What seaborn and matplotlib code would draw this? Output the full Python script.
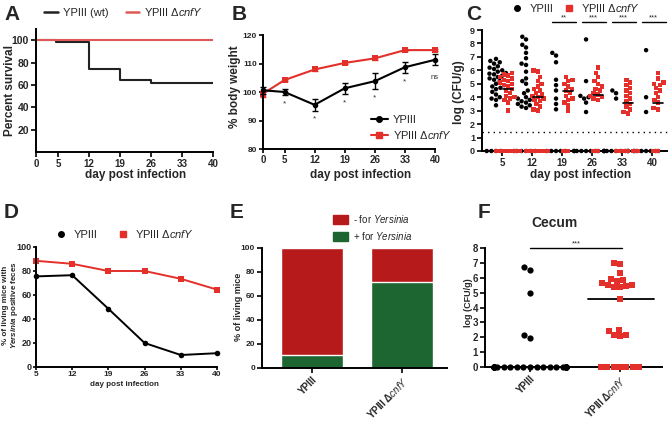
import warnings
warnings.filterwarnings("ignore")
import numpy as np
import pandas as pd
import matplotlib
matplotlib.use("Agg")
import matplotlib.pyplot as plt
import seaborn as sns
from matplotlib.lines import Line2D
from matplotlib.patches import Patch

sns.set_theme(style="ticks")
plt.rcParams['font.family'] = ['Liberation Sans', 'DejaVu Sans']
plt.rcParams['mathtext.fontset'] = 'custom'
plt.rcParams['mathtext.it'] = 'Liberation Sans:italic'
plt.rcParams['mathtext.rm'] = 'Liberation Sans'
plt.rcParams['mathtext.bf'] = 'Liberation Sans:bold:italic'

RED = '#E3302A'
DARKRED = '#B71A1B'
GREEN = '#1E6631'
MUT = 'YPIII Δ$\\mathit{cnfY}$'

# ---------------- data ----------------
# A survival
surv_days = [0, 4.5, 12, 19, 26, 40]
surv_wt = [100, 98, 74, 64, 62, 62]
surv_mut = [100, 100, 100, 100, 100, 100]

# B body weight
bw_days = [0, 5, 12, 19, 26, 33, 40]
bw_wt = [100.6, 100.0, 95.5, 101.3, 103.8, 108.7, 111.3]
bw_wt_err = [1.3, 1.0, 2.0, 2.0, 2.8, 2.0, 2.0]
bw_mut = [99.4, 104.2, 107.9, 110.2, 111.8, 114.7, 114.7]
bw_mut_err = [1.0, 0.4, 0.4, 0.4, 0.6, 0.4, 0.4]
bw_sig = ['*', '*', '*', '*', '*', 'ns']
bw_sig_days = [5, 12, 19, 26, 33, 40]

# C feces CFU
c_days = ['5', '12', '19', '26', '33', '40']
c_wt = {
    '5': [6.85, 6.7, 6.6, 6.5, 6.3, 6.2, 6.1, 6.0, 5.9, 5.8, 5.75, 5.7, 5.6, 5.5, 5.4, 5.3, 5.2,
          5.0, 4.9, 4.8, 4.7, 4.6, 4.4, 4.2, 4.0, 3.9, 3.8, 3.4, 0, 0, 0, 0],
    '12': [8.5, 8.3, 7.9, 7.7, 7.3, 6.9, 6.5, 6.4, 5.9, 5.4, 5.2, 5.0, 4.5, 4.3, 4.0, 3.9, 3.8,
           3.7, 3.6, 3.5, 3.4, 3.3, 3.2, 0, 0, 0, 0, 0, 0],
    '19': [7.3, 7.1, 6.6, 5.3, 4.9, 4.5, 3.9, 3.5, 3.1, 0, 0, 0, 0, 0],
    '26': [8.3, 5.2, 4.1, 4.0, 3.9, 3.6, 2.9, 0, 0, 0, 0, 0, 0, 0, 0],
    '33': [4.5, 4.3, 3.9, 0, 0, 0, 0, 0, 0, 0, 0, 0, 0],
    '40': [7.5, 4.0, 2.9, 0, 0, 0, 0, 0, 0, 0, 0],
}
c_mut = {
    '5': [5.8, 5.7, 5.6, 5.5, 5.4, 5.3, 5.2, 5.1, 5.0, 4.9, 4.8, 4.6, 4.5, 4.3, 4.1, 4.0, 3.9,
          3.8, 3.6, 3.0, 0, 0, 0, 0, 0, 0, 0, 0],
    '12': [6.0, 5.9, 5.5, 5.2, 5.0, 4.8, 4.6, 4.5, 4.3, 4.2, 4.1, 4.0, 3.9, 3.8, 3.7, 3.5, 3.3,
           3.1, 3.0, 0, 0, 0, 0, 0, 0],
    '19': [5.5, 5.3, 5.2, 5.0, 4.8, 4.6, 4.5, 4.3, 4.1, 3.9, 3.8, 3.6, 3.4, 3.0, 0, 0],
    '26': [6.2, 5.8, 5.5, 5.2, 5.0, 4.8, 4.6, 4.5, 4.3, 4.2, 4.1, 4.0, 3.9, 3.8, 0, 0],
    '33': [5.3, 5.1, 4.9, 4.7, 4.5, 4.3, 4.1, 3.9, 3.7, 3.5, 3.3, 3.1, 2.9, 2.8, 0, 0, 0, 0, 0, 0],
    '40': [5.8, 5.4, 5.1, 5.0, 4.9, 4.7, 4.5, 4.3, 4.0, 3.8, 3.6, 3.2, 3.1, 0, 0],
}
c_mut_median = [4.6, 4.05, 4.45, 4.15, 3.55, 3.55]
c_detect = 1.45
c_sig = ['', '', '**', '***', '***', '***']

# D positive feces
d_days = [5, 12, 19, 26, 33, 40]
d_wt = [75.5, 76.5, 48.5, 20, 10, 11.5]
d_mut = [88.5, 86, 80, 80, 73.5, 64.5]

# E stacked bars
e_cats = ['YPIII', 'YPIII ΔcnfY']
e_pos = [11, 72]
e_total = [100, 100]

# F cecum
f_cats = ['YPIII', 'YPIII ΔcnfY']
f_wt = [6.7, 6.55, 5.0, 2.15, 1.95] + [0] * 24
f_mut = [7.0, 6.95, 6.3, 5.9, 5.85, 5.65, 5.5, 5.4, 5.4, 5.45, 5.5, 5.75, 4.6,
         2.4, 2.15, 2.1, 2.15, 2.5] + [0] * 7
f_mut_median = 4.6

# ---------------- figure ----------------
W, H = 668, 421
fig = plt.figure(figsize=(W / 100, H / 100), dpi=100)


def mk(l, t, r, b, tl=3.5, pad=1.5):
    ax = fig.add_axes([l / W, 1 - b / H, (r - l) / W, (b - t) / H])
    ax.box = (l, t, r, b)
    for s in ['top', 'right']:
        ax.spines[s].set_visible(False)
    for s in ['left', 'bottom']:
        ax.spines[s].set_linewidth(1.4)
        ax.spines[s].set_color('black')
    ax.tick_params(width=1.2, length=tl, color='black', pad=pad)
    return ax


def lab(ax, xl=None, yl=None, fs=8):
    l, t, r, b = ax.box
    if xl:
        x, y, txt = xl
        ax.set_xlabel(txt, fontsize=fs, fontweight='bold')
        ax.xaxis.set_label_coords((x - l) / (r - l), (b - y) / (b - t))
    if yl:
        x, y, txt = yl
        ax.set_ylabel(txt, fontsize=fs, fontweight='bold')
        ax.yaxis.set_label_coords((x - l) / (r - l), (b - y) / (b - t))


def ticklabels_bold(ax, fs, fsx=None):
    for tl in ax.get_yticklabels():
        tl.set_fontweight('bold')
        tl.set_fontsize(fs)
    for tl in ax.get_xticklabels():
        tl.set_fontweight('bold')
        tl.set_fontsize(fsx or fs)


def panel(x, y, s):
    fig.text(x / W, 1 - y / H, s, fontsize=15, fontweight='bold', ha='left', va='center')


# ---- A ----
axA = mk(36, 29, 213, 152)
sns.lineplot(x=surv_days, y=surv_wt, drawstyle='steps-post', color='#222222', lw=1.5, ax=axA)
sns.lineplot(x=surv_days, y=surv_mut, drawstyle='steps-post', color='#E05A55', lw=1.5, ax=axA)
axA.set_xlim(0, 40)
axA.set_ylim(0, 110)
axA.set_xticks([0, 5, 12, 19, 26, 33, 40])
axA.set_yticks([20, 40, 60, 80, 100])
ticklabels_bold(axA, 7.5, 7)
lab(axA, (136, 169, 'day post infection'), (16, 90, 'Percent survival'), fs=8.5)
hA = [Line2D([], [], color='#222222', lw=1.8), Line2D([], [], color='#E05A55', lw=1.8)]
fig.legend(hA, ['YPIII (wt)', MUT], loc='center', bbox_to_anchor=(124 / W, 1 - 12 / H),
           ncol=2, frameon=False, fontsize=8, handlelength=1.2, handletextpad=0.5, columnspacing=1.5)
panel(4, 14, 'A')

# ---- B ----
axB = mk(263, 35, 435, 149, tl=3.0)
sns.lineplot(x=bw_days, y=bw_mut, color=RED, marker='s', markersize=4, markeredgewidth=0, lw=1.5,
             ax=axB, clip_on=False)
axB.errorbar(bw_days, bw_mut, yerr=bw_mut_err, fmt='none', ecolor=RED, elinewidth=1, capsize=2, clip_on=False)
sns.lineplot(x=bw_days, y=bw_wt, color='black', marker='o', markersize=4, markeredgewidth=0, lw=1.5,
             ax=axB, clip_on=False)
axB.errorbar(bw_days, bw_wt, yerr=bw_wt_err, fmt='none', ecolor='black', elinewidth=1, capsize=2.5, clip_on=False)
axB.set_xlim(0, 40)
axB.set_ylim(80, 120)
axB.set_xticks(bw_days)
axB.set_yticks([80, 90, 100, 110, 120])
ticklabels_bold(axB, 6, 7)
for d, s in zip(bw_sig_days, bw_sig):
    i = bw_days.index(d)
    yv = bw_wt[i] - bw_wt_err[i] - (1.8 if s == '*' else 3.0)
    axB.text(d, yv, s, ha='center', va='top', fontsize=6 if s == '*' else 5.5, color='#333333')
lab(axB, (361, 169, 'day post infection'), (241, 87, '% body weight'), fs=8.5)
hB = [Line2D([], [], color='black', marker='o', markersize=4, lw=1.5),
      Line2D([], [], color=RED, marker='s', markersize=4, lw=1.5)]
axB.legend(hB, ['YPIII', MUT], loc='center left', bbox_to_anchor=((365 - 263) / 172, (149 - 128) / 114),
           frameon=False, fontsize=8, handlelength=1.6, handletextpad=0.4, labelspacing=0.4, borderpad=0)
panel(232, 14, 'B')

# ---- C ----
axC = mk(482, 30, 668, 151)
strains = ['YPIII', 'YPIII ΔcnfY']
rows = []
for d in c_days:
    for v in c_wt[d]:
        rows.append((d, strains[0], v))
    for v in c_mut[d]:
        rows.append((d, strains[1], v))
dfC = pd.DataFrame(rows, columns=['day', 'strain', 'log'])
palC = {strains[0]: 'black', strains[1]: RED}
sns.swarmplot(data=dfC[dfC.strain == strains[0]], x='day', y='log', hue='strain', hue_order=strains,
              order=c_days, palette=palC, dodge=True, marker='o', size=3.2, linewidth=0, ax=axC, legend=False)
sns.swarmplot(data=dfC[dfC.strain == strains[1]], x='day', y='log', hue='strain', hue_order=strains,
              order=c_days, palette=palC, dodge=True, marker='s', size=3.2, linewidth=0, ax=axC, legend=False)
for c in axC.collections:
    c.set_clip_on(False)
    c.set_zorder(3)
for i, m in enumerate(c_mut_median):
    axC.plot([i + 0.2 - 0.17, i + 0.2 + 0.17], [m, m], color='black', lw=1.2, zorder=4)
axC.axhline(c_detect, color='black', ls=(0, (1, 3)), lw=1)
for i, s in enumerate(c_sig):
    if s:
        axC.plot([i - 0.35, i + 0.45], [9.6, 9.6], color='black', lw=1, clip_on=False)
        axC.text(i + 0.05, 9.65, s, ha='center', va='bottom', fontsize=5.5, clip_on=False)
axC.set_xlim(-0.667, 5.53)
axC.set_ylim(0, 9)
axC.set_yticks(range(10))
axC.set_xlabel('')
axC.set_ylabel('')
ticklabels_bold(axC, 6.5, 7)
lab(axC, (581, 169, 'day post infection'), (465, 92, 'log (CFU/g)'), fs=8.5)
hC = [Line2D([], [], color='black', marker='o', markersize=4, lw=0),
      Line2D([], [], color=RED, marker='s', markersize=4, lw=0)]
fig.legend(hC, ['YPIII', MUT], loc='center', bbox_to_anchor=(576 / W, 1 - 8 / H), ncol=2, frameon=False,
           fontsize=8, handlelength=1.0, handletextpad=0.6, columnspacing=0.9)
panel(466, 15, 'C')

# ---- D ----
axD = mk(36, 247, 217, 367, tl=2.2, pad=1.0)
sns.lineplot(x=d_days, y=d_mut, color=RED, marker='s', markersize=4, markeredgewidth=0, lw=1.4, ax=axD, clip_on=False)
sns.lineplot(x=d_days, y=d_wt, color='black', marker='o', markersize=4, markeredgewidth=0, lw=1.4, ax=axD, clip_on=False)
axD.set_xlim(5, 40)
axD.set_ylim(0, 100)
axD.set_xticks(d_days)
axD.set_yticks([0, 20, 40, 60, 80, 100])
ticklabels_bold(axD, 6.5, 6)
lab(axD, (124, 381, 'day post infection'),
    (20, 305, '% of living mice with\n$\\mathbf{Yersinia}$ positive feces'), fs=5.8)
axD.yaxis.label.set_linespacing(0.95)
fig.legend(hC, ['YPIII', MUT], loc='center', bbox_to_anchor=(125 / W, 1 - 234 / H), ncol=2,
           frameon=False, fontsize=8, handlelength=1.0, handletextpad=0.6, columnspacing=1.8)
panel(4, 213, 'D')

# ---- E ----
axE = mk(262, 248, 447, 368)
sns.barplot(x=e_cats, y=e_total, color=DARKRED, saturation=1, width=0.69, ax=axE)
sns.barplot(x=e_cats, y=e_pos, color=GREEN, saturation=1, width=0.69, ax=axE)
axE.set_xlim(-0.556, 1.5)
axE.set_ylim(0, 100)
axE.set_yticks([0, 20, 40, 60, 80, 100])
axE.set_xticks([0, 1])
axE.set_xticklabels(['YPIII', 'YPIII Δ$\\mathit{cnfY}$'], rotation=45, ha='right', rotation_mode='anchor')
ticklabels_bold(axE, 6, 7)
lab(axE, None, (243, 307, '% of living mice'), fs=6.5)
hE = [Patch(color=DARKRED), Patch(color=GREEN)]
fig.legend(hE, ['- for $\\mathit{Yersinia}$', '+ for $\\mathit{Yersinia}$'], loc='upper left',
           bbox_to_anchor=(328 / W, 1 - 208 / H), frameon=False, fontsize=7, handlelength=1.6,
           handleheight=1.0, handletextpad=0.5, labelspacing=0.5, borderpad=0)
panel(230, 213, 'E')

# ---- F ----
axF = mk(485, 248, 662, 367)
dfF_wt = pd.DataFrame({'strain': f_cats[0], 'log': f_wt})
dfF_mut = pd.DataFrame({'strain': f_cats[1], 'log': f_mut})
sns.swarmplot(data=dfF_wt, x='strain', y='log', order=f_cats, color='black', marker='o', size=4.5,
              linewidth=0, ax=axF)
sns.swarmplot(data=dfF_mut, x='strain', y='log', order=f_cats, color=RED, marker='s', size=4.3,
              linewidth=0, ax=axF)
for c in axF.collections:
    c.set_clip_on(False)
    c.set_zorder(3)
axF.plot([1 - 0.35, 1 + 0.38], [f_mut_median, f_mut_median], color='black', lw=1.3, zorder=2)
axF.plot([0, 1.02], [8, 8], color='black', lw=1, clip_on=False)
axF.text(0.52, 8.05, '***', ha='center', va='bottom', fontsize=5.5, clip_on=False)
axF.set_xlim(-0.5, 1.467)
axF.set_ylim(0, 8)
axF.set_yticks(range(9))
axF.set_xticks([0, 1])
axF.set_xticklabels(['YPIII', 'YPIII Δ$\\mathit{cnfY}$'], rotation=45, ha='right', rotation_mode='anchor')
axF.set_xlabel('')
ticklabels_bold(axF, 7)
lab(axF, None, (473, 303, 'log (CFU/g)'), fs=6.5)
fig.text(555 / W, 1 - 223 / H, 'Cecum', ha='center', va='center', fontsize=10, fontweight='bold')
panel(478, 213, 'F')

fig.savefig('out.png', dpi=100)
